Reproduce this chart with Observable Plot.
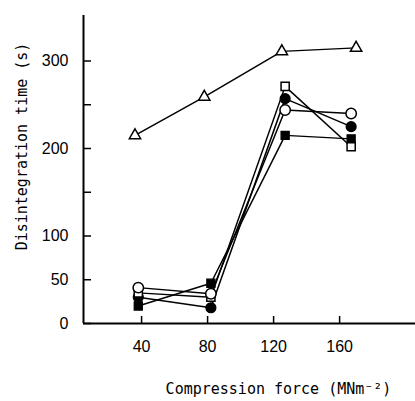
<!DOCTYPE html>
<html><head><meta charset="utf-8">
<script src="https://cdn.jsdelivr.net/npm/d3@7"></script>
<script src="https://cdn.jsdelivr.net/npm/@observablehq/plot@0.6"></script>
<style>body{margin:0;background:#fff}#chart{width:415px;height:401px}</style>
</head><body><div id="chart"></div>
<script>
// Compression force (MN m^-2) at which each series was measured
const forceTriangle = [36, 78, 125, 170];
const forceOthers = [38, 82, 127, 167];
// Disintegration time (s)
const timesTriangle = [215, 259, 311, 315];
const timesOpenSquare = [35, 30, 271, 202];
const timesFilledCircle = [30, 18, 257, 225];
const timesOpenCircle = [41, 34, 244, 240];
const timesFilledSquare = [20, 46, 215, 211];

const xTicks = [40, 80, 120, 160];
const yTicks = [0, 50, 100, 150, 200, 250, 300];
const yTickLabels = ["0", "50", "100", "", "200", "", "300"];
const xDomain = [4.8, 206];
const yDomain = [0, 352];
const xLabel = "Compression force (MNm\u207B\u00B2)";
const yLabel = "Disintegration time (s)";

const seriesDefs = [
  {name: "triangle", x: forceTriangle, y: timesTriangle, symbol: "triangle", fill: "white", r: 4.2},
  {name: "openSquare", x: forceOthers, y: timesOpenSquare, symbol: "square", fill: "white", r: 4.6},
  {name: "filledCircle", x: forceOthers, y: timesFilledCircle, symbol: "circle", fill: "black", r: 5},
  {name: "openCircle", x: forceOthers, y: timesOpenCircle, symbol: "circle", fill: "white", r: 5.2},
  {name: "filledSquare", x: forceOthers, y: timesFilledSquare, symbol: "square", fill: "black", r: 4.6}
];
const rows = seriesDefs.flatMap(s => s.x.map((f, i) => ({series: s.name, force: f, time: s.y[i]})));

const tickFont = "'Liberation Sans Narrow', 'Arial Narrow', 'Liberation Sans', sans-serif";
const monoFont = "'DejaVu Sans Mono', 'Liberation Mono', monospace";

const marks = [
  Plot.ruleY([yDomain[0]], {strokeWidth: 2}),
  Plot.ruleX([xDomain[0]], {strokeWidth: 2}),
  Plot.axisY(yTicks, {tickSize: -8, text: null, strokeWidth: 1.5, label: null}),
  Plot.axisY(yTicks, {tickSize: 0, tickPadding: 15, tickFormat: d => yTickLabels[yTicks.indexOf(d)], fontSize: 16, fontFamily: tickFont, label: null}),
  Plot.axisX(xTicks, {tickSize: -7, text: null, strokeWidth: 1.5, label: null}),
  Plot.axisX(xTicks, {tickSize: 0, tickPadding: 17, fontSize: 16, fontFamily: tickFont, label: null}),
  Plot.line(rows, {x: "force", y: "time", z: "series", stroke: "black", strokeWidth: 1.5}),
  ...seriesDefs.filter(s => s.fill === "black").map(s =>
    Plot.dot(rows.filter(d => d.series === s.name), {x: "force", y: "time", symbol: s.symbol, r: s.r, fill: "black", stroke: "black", strokeWidth: 1.2})),
  ...seriesDefs.filter(s => s.fill === "white").map(s =>
    Plot.dot(rows.filter(d => d.series === s.name), {x: "force", y: "time", symbol: s.symbol, r: s.r, fill: "white", stroke: "black", strokeWidth: 1.5})),
  Plot.text([xLabel], {text: d => d, frameAnchor: "bottom", textAnchor: "middle", lineAnchor: "bottom", dx: 29, dy: 70, fontSize: 15, fontFamily: monoFont}),
  Plot.text([yLabel], {text: d => d, frameAnchor: "left", textAnchor: "middle", lineAnchor: "middle", rotate: -90, dx: -61, dy: -23, fontSize: 15, fontFamily: monoFont})
];

const chart = Plot.plot({
  width: 415,
  height: 401,
  marginLeft: 83,
  marginRight: 0,
  marginTop: 15,
  marginBottom: 78,
  x: {domain: xDomain, axis: null},
  y: {domain: yDomain, axis: null},
  style: {background: "white", color: "black"},
  marks
});
document.getElementById("chart").appendChild(chart);
</script>
</body></html>
